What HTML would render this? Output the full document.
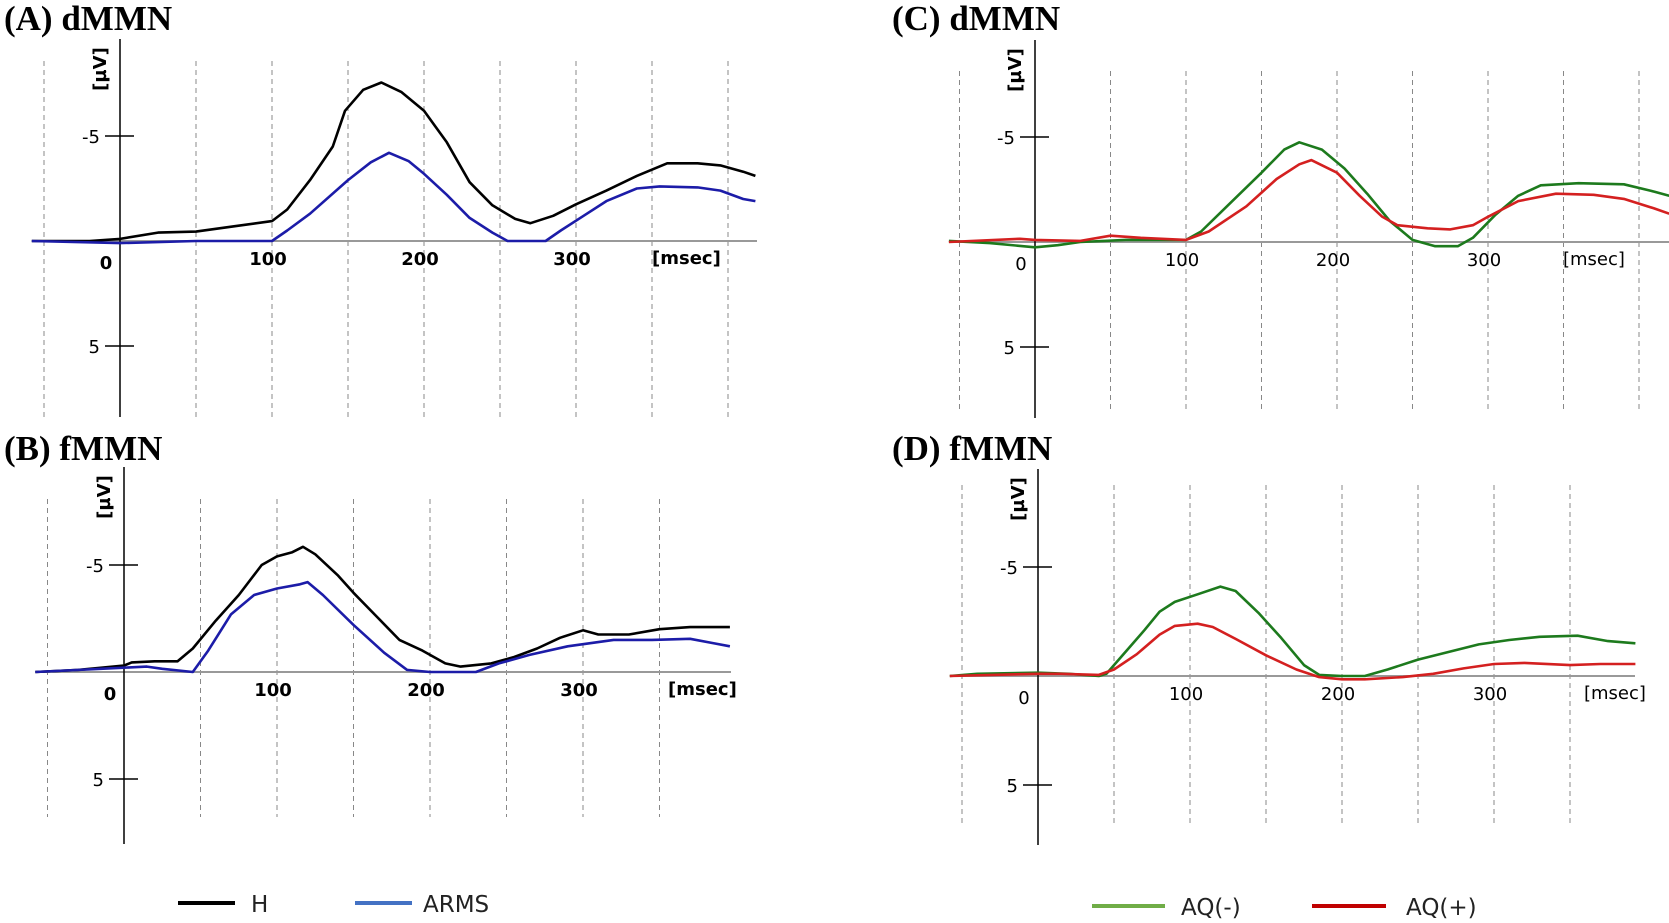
<!DOCTYPE html>
<html><head><meta charset="utf-8"><style>
html,body{margin:0;padding:0;background:#fff;}
svg{display:block;}
.ttl{font-family:"Liberation Serif",serif;font-weight:bold;font-size:35px;fill:#000;}
.tk{font-family:"DejaVu Sans","Liberation Sans",sans-serif;font-size:18px;fill:#000;}
.lg{font-family:"DejaVu Sans","Liberation Sans",sans-serif;font-size:23px;fill:#222;}
</style></head><body>
<svg id="fig" width="1669" height="923" viewBox="0 0 1669 923"></svg>
<script>
// Panel A dMMN
const tA_H=[-58,-20,0,25,50,75,100,110,125,140,148,160,172,185,200,215,230,245,260,270,285,300,320,340,360,380,395,410,418];
const vA_H=[0,0,-0.1,-0.4,-0.45,-0.7,-0.95,-1.5,-2.9,-4.5,-6.2,-7.2,-7.55,-7.1,-6.2,-4.7,-2.8,-1.7,-1.05,-0.85,-1.2,-1.75,-2.4,-3.1,-3.7,-3.7,-3.6,-3.3,-3.1];
const tA_ARMS=[-58,0,50,100,110,125,150,165,177,190,200,215,230,245,255,280,290,305,320,340,355,380,395,410,418];
const vA_ARMS=[0,0.1,0,0,-0.5,-1.3,-2.9,-3.75,-4.2,-3.8,-3.2,-2.2,-1.1,-0.4,0,0,-0.5,-1.2,-1.9,-2.5,-2.6,-2.55,-2.4,-2.0,-1.9];
// Panel B fMMN
const tB_H=[-58,-30,0,5,20,35,45,60,75,90,100,110,117,125,140,150,165,180,195,210,220,240,255,270,285,300,310,330,350,370,390,396];
const vB_H=[0,-0.1,-0.3,-0.45,-0.5,-0.5,-1.1,-2.4,-3.6,-5.0,-5.4,-5.6,-5.85,-5.5,-4.5,-3.7,-2.6,-1.5,-1.0,-0.4,-0.25,-0.4,-0.7,-1.1,-1.6,-1.95,-1.75,-1.75,-2.0,-2.1,-2.1,-2.1];
const tB_ARMS=[-58,0,15,25,45,55,70,85,100,115,120,130,150,170,185,200,230,245,265,290,320,345,370,385,396];
const vB_ARMS=[0,-0.2,-0.25,-0.15,0,-1.0,-2.7,-3.6,-3.9,-4.1,-4.2,-3.6,-2.2,-0.9,-0.1,0,0,-0.4,-0.8,-1.2,-1.5,-1.5,-1.55,-1.35,-1.2];
// Panel C dMMN
const tC_AQm=[-57,-30,0,15,30,60,100,110,130,150,165,175,190,205,220,235,250,265,280,290,305,320,335,360,390,410,420];
const vC_AQm=[-0.05,0.05,0.25,0.15,0,-0.1,-0.1,-0.5,-1.9,-3.3,-4.4,-4.75,-4.4,-3.5,-2.3,-1.0,-0.1,0.2,0.2,-0.2,-1.3,-2.2,-2.7,-2.8,-2.75,-2.4,-2.2];
const tC_AQp=[-57,-10,0,30,50,70,100,115,140,160,175,183,200,215,230,240,260,275,290,300,320,345,370,390,410,420];
const vC_AQp=[0,-0.15,-0.1,-0.05,-0.3,-0.2,-0.1,-0.5,-1.7,-3.0,-3.7,-3.9,-3.3,-2.2,-1.2,-0.8,-0.65,-0.6,-0.8,-1.2,-1.95,-2.3,-2.25,-2.05,-1.6,-1.35];
// Panel D fMMN
const tD_AQm=[-58,-40,0,20,40,45,55,70,80,90,105,120,130,145,160,175,185,200,215,230,250,270,290,310,330,355,375,393];
const vD_AQm=[0,-0.1,-0.15,-0.1,0,-0.1,-0.9,-2.1,-2.95,-3.4,-3.75,-4.1,-3.9,-2.9,-1.75,-0.5,-0.05,0,0,-0.3,-0.75,-1.1,-1.45,-1.65,-1.8,-1.85,-1.6,-1.5];
const tD_AQp=[-58,0,15,40,50,65,80,90,105,115,130,150,170,185,200,215,240,260,280,300,320,350,370,393];
const vD_AQp=[0,-0.1,-0.1,-0.05,-0.3,-1.0,-1.9,-2.3,-2.4,-2.25,-1.7,-0.95,-0.3,0.05,0.15,0.15,0.05,-0.1,-0.35,-0.55,-0.6,-0.5,-0.55,-0.55];
const xTickLabels=["0","100","200","300"];
const yTickLabels=["-5","5"];
const gridTimes=[-50,50,100,150,200,250,300,350,400];

const NS="http://www.w3.org/2000/svg";
const svg=document.getElementById('fig');
function mk(tag,attrs,parent){const e=document.createElementNS(NS,tag);for(const k in attrs)e.setAttribute(k,attrs[k]);(parent||svg).appendChild(e);return e;}

function panel(p){
  const g=mk('g',{});
  
  
  const X=t=>p.x0+t*p.kx, Y=v=>p.y0+v*p.ky;
  const t=mk('text',{x:p.tx,y:p.ty,class:'ttl'},g);t.textContent=p.title;
  
  
  gridTimes.forEach(gt=>{ if(X(gt)>p.xe+2)return;
    const l=mk('line',{x1:X(gt),x2:X(gt),y1:p.gTop,y2:p.gBot,stroke:'#888','stroke-width':1,'stroke-dasharray':'5,4'},g);
    
    });
  const z=mk('line',{x1:X(p.ts),x2:p.xe,y1:Y(0),y2:Y(0),stroke:'#999','stroke-width':2},g);
  
  
  const ax=mk('line',{x1:p.x0,x2:p.x0,y1:p.aTop,y2:p.aBot,stroke:'#000','stroke-width':1.5},g);
  
  
  [-5,5].forEach((v,i)=>{
    const tk=mk('line',{x1:p.x0-15,x2:p.x0+14,y1:Y(v),y2:Y(v),stroke:'#000','stroke-width':1.5},g);
    
    
    const lb=mk('text',{x:p.x0-20,y:Y(v)+7,class:'tk','text-anchor':'end'},g);lb.textContent=yTickLabels[i];
    
    
  });
  xTickLabels.forEach((s,i)=>{
    const xx=i===0?p.x0-14:X(i*100)-4;
    const lb=mk('text',{x:xx,y:Y(0)+(i===0?28:24),class:'tk','text-anchor':'middle','font-weight':p.bold?'bold':'normal'},g);lb.textContent=s;
    
    
  });
  const ms=mk('text',{x:p.msx,y:Y(0)+23,class:'tk','font-weight':p.bold?'bold':'normal'},g);ms.textContent='[msec]';
  
  
  const uv=mk('text',{x:0,y:0,class:'tk','font-weight':'bold','text-anchor':'middle',transform:`translate(${p.x0-14},${p.aTop+30}) rotate(-90)`},g);uv.textContent='[µV]';
  
  
  p.series.forEach(s=>{
    const d=s.t.map((tt,i)=>(i?'L':'M')+X(tt).toFixed(1)+','+Y(s.v[i]).toFixed(1)).join(' ');
    const pa=mk('path',{d:d,fill:'none',stroke:s.c,'stroke-width':2.6,'stroke-linejoin':'round'},g);
    
    
  });
}
panel({name:'panel-a-dmmn',title:'(A) dMMN',tx:4,ty:30,x0:120,kx:1.52,y0:241,ky:21,ts:-58,xe:757,gTop:61,gBot:417,aTop:39,aBot:417,msx:652,bold:true,
  series:[{t:tA_H,v:vA_H,c:'#000',n:'series-h'},{t:tA_ARMS,v:vA_ARMS,c:'#1c1ca8',n:'series-arms'}]});
panel({name:'panel-b-fmmn',title:'(B) fMMN',tx:4,ty:460,x0:124,kx:1.53,y0:672,ky:21.4,ts:-58,xe:731,gTop:499,gBot:817,aTop:467,aBot:844,msx:668,bold:true,
  series:[{t:tB_H,v:vB_H,c:'#000',n:'series-h'},{t:tB_ARMS,v:vB_ARMS,c:'#1c1ca8',n:'series-arms'}]});
panel({name:'panel-c-dmmn',title:'(C) dMMN',tx:892,ty:30,x0:1035,kx:1.51,y0:242,ky:21,ts:-57,xe:1669,gTop:71,gBot:409,aTop:40,aBot:418,msx:1563,bold:false,
  series:[{t:tC_AQm,v:vC_AQm,c:'#1d7a1d',n:'series-aq-minus'},{t:tC_AQp,v:vC_AQp,c:'#d42020',n:'series-aq-plus'}]});
panel({name:'panel-d-fmmn',title:'(D) fMMN',tx:892,ty:460,x0:1038,kx:1.52,y0:676,ky:21.8,ts:-58,xe:1635,gTop:485,gBot:824,aTop:469,aBot:845,msx:1584,bold:false,
  series:[{t:tD_AQm,v:vD_AQm,c:'#1d7a1d',n:'series-aq-minus'},{t:tD_AQp,v:vD_AQp,c:'#d42020',n:'series-aq-plus'}]});

function legend(x1,x2,y,c,label,tx){
  const g=mk('g',{});
  
  
  mk('line',{x1:x1,x2:x2,y1:y,y2:y,stroke:c,'stroke-width':4},g);
  const t=mk('text',{x:tx,y:y+9,class:'lg'},g);t.textContent=label;
}
legend(178,235,903,'#000','H',251);
legend(355,412,903,'#4472c4','ARMS',423);
legend(1092,1165,906,'#70ad47','AQ(-)',1181);
legend(1312,1386,906,'#c00000','AQ(+)',1406);
</script>
</body></html>
